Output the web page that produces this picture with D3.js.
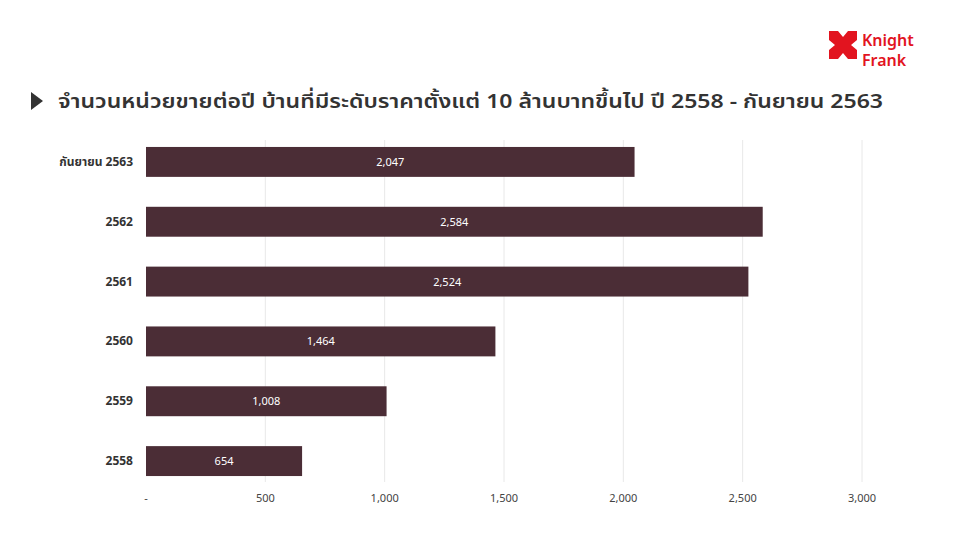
<!DOCTYPE html><html><head><meta charset="utf-8"><script src="https://d3js.org/d3.v7.min.js"></script>
<style>body{margin:0;background:#fff}text{font-family:"Noto Sans","Noto Sans Thai","Lato",sans-serif}</style></head><body>
<svg id="c" width="960" height="536"></svg>
<script>
const categories=["กันยายน 2563","2562","2561","2560","2559","2558"];
const values=[2047,2584,2524,1464,1008,654];
const ticks=[0,500,1000,1500,2000,2500,3000];
const title="จำนวนหน่วยขายต่อปี บ้านที่มีระดับราคาตั้งแต่ 10 ล้านบาทขึ้นไป ปี 2558 - กันยายน 2563";
const svg=d3.select("#c");
const x=d3.scaleLinear().domain([0,3000]).range([146,862]);
const y=d3.scaleBand().domain(categories).range([132,491]).paddingInner(0.5).paddingOuter(0.25);
const fmt=d3.format(",");
svg.append("g").selectAll("line").data(ticks.slice(1)).join("line")
 .attr("x1",d=>x(d)).attr("x2",d=>x(d)).attr("y1",140).attr("y2",482).attr("stroke","#e8e8e8");
svg.append("g").selectAll("rect").data(values).join("rect")
 .attr("x",x(0)).attr("y",(d,i)=>y(categories[i])).attr("width",d=>x(d)-x(0)).attr("height",y.bandwidth()).attr("fill","#4b2d36");
svg.append("g").selectAll("text").data(values).join("text")
 .attr("x",d=>(x(0)+x(d))/2).attr("y",(d,i)=>y(categories[i])+y.bandwidth()/2+4).attr("text-anchor","middle")
 .attr("fill","#fff").attr("font-size",11).text(d=>fmt(d));
svg.append("g").selectAll("text").data(categories).join("text")
 .attr("x",133).attr("y",d=>y(d)+y.bandwidth()/2+4).attr("text-anchor","end").attr("font-size",12).attr("font-weight","bold").attr("fill","#333").text(d=>d);
svg.append("g").selectAll("text").data(ticks).join("text")
 .attr("x",d=>x(d)).attr("y",502).attr("text-anchor","middle").attr("font-size",11).attr("fill","#444").text(d=>d===0?"-":fmt(d));
svg.append("path").attr("d","M31,92 L43,101 L31,110 Z").attr("fill","#333");
svg.append("text").attr("x",58).attr("y",108).attr("font-size",20).attr("font-weight",600).attr("fill","#333")
 .attr("textLength",825).attr("lengthAdjust","spacingAndGlyphs").text(title);
// logo
const lg=svg.append("g").attr("fill","#e2141f");
lg.append("path").attr("d","M829,31 L838,31 L843,37 L848,31 L857,31 L857,40 L851,45 L857,50 L857,59 L848,59 L843,53 L838,59 L829,59 L829,50 L835,45 L829,40 Z");
lg.append("text").attr("x",862).attr("y",46).attr("font-size",16).attr("font-weight",600).text("Knight");
lg.append("text").attr("x",862).attr("y",66).attr("font-size",16).attr("font-weight",600).text("Frank");
</script></body></html>
